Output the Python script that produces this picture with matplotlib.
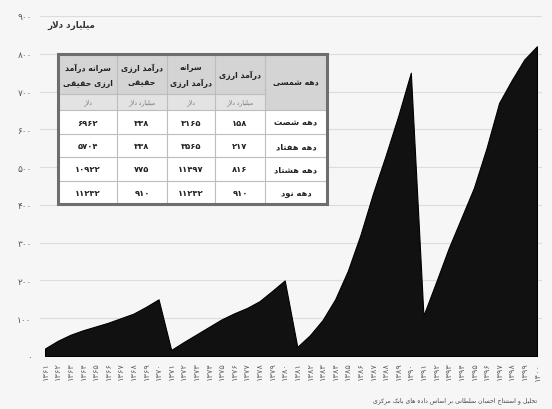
import matplotlib
matplotlib.use("Agg")
import matplotlib.pyplot as plt
from matplotlib.patches import Rectangle

plt.rcParams['font.family'] = ['DejaVu Sans']

# ---------------- data ----------------
years = list(range(1361, 1401))
values = [20, 40, 56, 68, 78, 88, 100, 112, 130, 150,
          16, 37, 57, 77, 97, 113, 127, 145, 172, 200,
          24, 55, 95, 150, 225, 320, 430, 530, 635, 750,
          107, 195, 285, 365, 445, 550, 670, 730, 785, 820]
y_ticks = [0, 100, 200, 300, 400, 500, 600, 700, 800, 900]
y_unit = 'میلیارد دلار'
source_text = 'تحلیل و استنتاج احسان سلطانی بر اساس داده های بانک مرکزی'

# table (columns listed left -> right as drawn)
col_headers = [['سرانه درآمد', 'ارزی حقیقی'], ['درآمد ارزی', 'حقیقی'],
               ['سرانه', 'درآمد ارزی'], ['درآمد ارزی'], ['دهه شمسی']]
col_units = ['دلار', 'میلیارد دلار', 'دلار', 'میلیارد دلار']
decades = ['دهه شصت', 'دهه هفتاد', 'دهه هشتاد', 'دهه نود']
real_per_capita = [6962, 5704, 10922, 11232]
real_fx_income = [338, 338, 775, 910]
fx_per_capita = [3165, 3565, 11497, 11232]
fx_income = [158, 217, 816, 910]

# ---------------- Persian helpers ----------------
def fa_digits(n):
    return str(n).translate(str.maketrans('0123456789', '۰۱۲۳۴۵۶۷۸۹'))

def _f(*codes):
    return tuple(chr(c) for c in codes)

FORMS = {
    'ا': _f(0xFE8D, 0xFE8E), 'آ': _f(0xFE81, 0xFE82),
    'ب': _f(0xFE8F, 0xFE90, 0xFE91, 0xFE92), 'پ': _f(0xFB56, 0xFB57, 0xFB58, 0xFB59),
    'ت': _f(0xFE95, 0xFE96, 0xFE97, 0xFE98), 'ث': _f(0xFE99, 0xFE9A, 0xFE9B, 0xFE9C),
    'ج': _f(0xFE9D, 0xFE9E, 0xFE9F, 0xFEA0), 'چ': _f(0xFB7A, 0xFB7B, 0xFB7C, 0xFB7D),
    'ح': _f(0xFEA1, 0xFEA2, 0xFEA3, 0xFEA4), 'خ': _f(0xFEA5, 0xFEA6, 0xFEA7, 0xFEA8),
    'د': _f(0xFEA9, 0xFEAA), 'ذ': _f(0xFEAB, 0xFEAC),
    'ر': _f(0xFEAD, 0xFEAE), 'ز': _f(0xFEAF, 0xFEB0), 'ژ': _f(0xFB8A, 0xFB8B),
    'س': _f(0xFEB1, 0xFEB2, 0xFEB3, 0xFEB4), 'ش': _f(0xFEB5, 0xFEB6, 0xFEB7, 0xFEB8),
    'ص': _f(0xFEB9, 0xFEBA, 0xFEBB, 0xFEBC), 'ض': _f(0xFEBD, 0xFEBE, 0xFEBF, 0xFEC0),
    'ط': _f(0xFEC1, 0xFEC2, 0xFEC3, 0xFEC4), 'ظ': _f(0xFEC5, 0xFEC6, 0xFEC7, 0xFEC8),
    'ع': _f(0xFEC9, 0xFECA, 0xFECB, 0xFECC), 'غ': _f(0xFECD, 0xFECE, 0xFECF, 0xFED0),
    'ف': _f(0xFED1, 0xFED2, 0xFED3, 0xFED4), 'ق': _f(0xFED5, 0xFED6, 0xFED7, 0xFED8),
    'ک': _f(0xFB8E, 0xFB8F, 0xFB90, 0xFB91), 'گ': _f(0xFB92, 0xFB93, 0xFB94, 0xFB95),
    'ل': _f(0xFEDD, 0xFEDE, 0xFEDF, 0xFEE0), 'م': _f(0xFEE1, 0xFEE2, 0xFEE3, 0xFEE4),
    'ن': _f(0xFEE5, 0xFEE6, 0xFEE7, 0xFEE8), 'ه': _f(0xFEE9, 0xFEEA, 0xFEEB, 0xFEEC),
    'و': _f(0xFEED, 0xFEEE), 'ی': _f(0xFBFC, 0xFBFD, 0xFBFE, 0xFBFF),
}
LAM_ALEF = {'ا': _f(0xFEFB, 0xFEFC), 'آ': _f(0xFEF5, 0xFEF6)}

def fa(text):
    out = []
    chars = list(text)
    i = 0
    n = len(chars)
    while i < n:
        c = chars[i]
        if c not in FORMS:
            out.append(c)
            i += 1
            continue
        prev = chars[i - 1] if i > 0 else None
        join_prev = prev is not None and prev in FORMS and len(FORMS[prev]) == 4
        if c == 'ل' and i + 1 < n and chars[i + 1] in LAM_ALEF:
            lig = LAM_ALEF[chars[i + 1]]
            out.append(lig[1] if join_prev else lig[0])
            i += 2
            continue
        nxt = chars[i + 1] if i + 1 < n else None
        join_next = len(FORMS[c]) == 4 and nxt is not None and nxt in FORMS
        f = FORMS[c]
        if join_prev and join_next:
            out.append(f[3])
        elif join_prev:
            out.append(f[1])
        elif join_next:
            out.append(f[2])
        else:
            out.append(f[0])
        i += 1
    return ''.join(reversed(out))

# ---------------- figure ----------------
W, H = 552, 410
BG = '#f6f6f6'
fig = plt.figure(figsize=(W / 100, H / 100), dpi=100, facecolor=BG)

def fx(px):
    return px / W

def fy(py):
    return 1 - py / H

ax = fig.add_axes([fx(40), fy(357), fx(542) - fx(40), fy(17) - fy(357)])
ax.set_facecolor(BG)
ax.fill_between(years, values, 0, color='#111111', edgecolor='#000000', linewidth=0.8, zorder=3)
ax.set_xlim(1360.6, 1400.4)
ax.set_ylim(0, 900)
ax.set_yticks(y_ticks)
ax.set_yticklabels([fa_digits(v) for v in y_ticks], fontsize=6.5, color='#555555')
ax.set_xticks(years)
ax.set_xticklabels([fa_digits(y) for y in years], rotation=90, fontsize=6, color='#666666')
ax.tick_params(axis='both', length=0)
ax.tick_params(axis='y', pad=6)
ax.tick_params(axis='x', pad=4)
ax.grid(axis='y', color='#dcdcdc', linewidth=0.8, zorder=0)
for s in ax.spines.values():
    s.set_visible(False)

fig.text(fx(95), fy(25), fa(y_unit), ha='right', va='center', fontsize=6.3,
         fontweight='bold', color='#333333')
fig.text(fx(537), fy(401), fa(source_text), ha='right', va='center', fontsize=4.4,
         color='#444444')

# ---------------- table ----------------
tx0, tx1, ty0, ty1 = 58, 327, 55, 205
tax = fig.add_axes([fx(tx0), fy(ty1), fx(tx1) - fx(tx0), fy(ty0) - fy(ty1)])
tax.set_xlim(0, tx1 - tx0)
tax.set_ylim(ty1 - ty0, 0)
tax.axis('off')
col_edges = [0, 59, 109, 157, 207, 269]
row_edges = [0, 40, 56, 80, 103, 127, 150]
HEAD = '#d4d4d4'
UNIT = '#e3e3e3'
LINE = '#bdbdbd'

# backgrounds
tax.add_patch(Rectangle((0, 0), 269, 150, facecolor='white', edgecolor='none', zorder=1))
tax.add_patch(Rectangle((0, 0), col_edges[4], 40, facecolor=HEAD, edgecolor='none', zorder=1))
tax.add_patch(Rectangle((0, 40), col_edges[4], 16, facecolor=UNIT, edgecolor='none', zorder=1))
tax.add_patch(Rectangle((col_edges[4], 0), 269 - col_edges[4], 56, facecolor=HEAD,
                        edgecolor='none', zorder=1))
# grid lines
for xe in col_edges[1:-1]:
    tax.plot([xe, xe], [0, 150], color=LINE, lw=0.8, zorder=2)
tax.plot([0, col_edges[4]], [40, 40], color=LINE, lw=0.8, zorder=2)
for ye in row_edges[2:-1]:
    tax.plot([0, 269], [ye, ye], color=LINE, lw=0.8, zorder=2)
tax.add_patch(Rectangle((0, 0), 269, 150, facecolor='none', edgecolor='#6e6e6e', lw=2.2,
                        zorder=3, clip_on=False))

centers = [(col_edges[i] + col_edges[i + 1]) / 2 for i in range(5)]
for i, lines in enumerate(col_headers):
    if i == 4:
        tax.text(centers[i], 28, fa(lines[0]), ha='center', va='center', fontsize=5.6,
                 fontweight='bold', color='#222222', zorder=4)
    elif len(lines) == 2:
        tax.text(centers[i], 13, fa(lines[0]), ha='center', va='center', fontsize=5.6,
                 fontweight='bold', color='#222222', zorder=4)
        tax.text(centers[i], 28, fa(lines[1]), ha='center', va='center', fontsize=5.6,
                 fontweight='bold', color='#222222', zorder=4)
    else:
        tax.text(centers[i], 20, fa(lines[0]), ha='center', va='center', fontsize=5.6,
                 fontweight='bold', color='#222222', zorder=4)
for i, u in enumerate(col_units):
    tax.text(centers[i], 48, fa(u), ha='center', va='center', fontsize=4.3,
             color='#777777', zorder=4)

columns = [real_per_capita, real_fx_income, fx_per_capita, fx_income]
for r in range(4):
    yc = (row_edges[r + 2] + row_edges[r + 3]) / 2
    for c, col in enumerate(columns):
        tax.text(centers[c], yc, fa_digits(col[r]), ha='center', va='center', fontsize=6,
                 fontweight='bold', color='#222222', zorder=4)
    tax.text(centers[4], yc, fa(decades[r]), ha='center', va='center', fontsize=6,
             fontweight='bold', color='#222222', zorder=4)

fig.savefig('out.png', dpi=100, facecolor=BG)
